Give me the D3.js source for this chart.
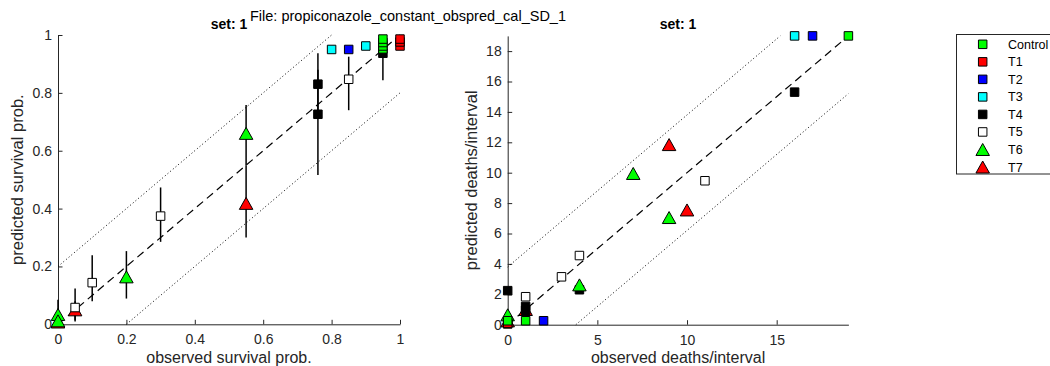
<!DOCTYPE html>
<html><head><meta charset="utf-8">
<script src="https://cdn.jsdelivr.net/npm/d3@7"></script>
<style>
body{margin:0;background:#fff}
text{font-family:"Liberation Sans",Arial,Helvetica,sans-serif}
</style>
</head><body>
<svg id="c" width="1050" height="366"></svg>
<script>
// ---- data ----
const seriesNames  = ["Control","T1","T2","T3","T4","T5","T6","T7"];
const seriesColors = ["#00ff00","#ff0000","#0000ff","#00ffff","#000000","#ffffff","#00ff00","#ff0000"];
const seriesShapes = ["square","square","square","square","square","square","triangle","triangle"];
const drawOrder    = ["T7","T4","T6","T5","T3","T2","T1","Control"];

// survival panel: [observed, predicted, ciLow, ciHigh]
const survControl = [[0.95,0.952,null,null],[0.95,0.962,null,null],[0.95,0.974,null,null],[0.95,0.986,null,null]];
const survT1 = [[1,0.962,null,null],[1,0.976,null,null],[1,0.986,null,null]];
const survT2 = [[0.85,0.95,null,null]];
const survT3 = [[0.8,0.95,null,null],[0.9,0.962,null,null]];
const survT4 = [[0.76,0.83,0.72,0.937],[0.76,0.726,0.516,0.88],[0.95,0.937,0.844,0.99]];
const survT5 = [[0.85,0.847,0.74,0.925],[0.3,0.374,0.285,0.473],[0.1,0.144,0.08,0.239],[0.05,0.058,0.014,0.124]];
const survT6 = [[0.55,0.66,0.55,0.758],[0.2,0.164,0.089,0.253],[0,0.034,0,0.085],[0,0.012,0,0.05]];
const survT7 = [[0.55,0.418,0.30,0.55],[0.05,0.05,0.01,0.08],[0,0.008,0,0.01]];

// deaths panel: [observed, predicted]
const deathsControl = [[19,19],[1,0.26],[0,0.26]];
const deathsT1 = [[0,0.05],[0,0.1]];
const deathsT2 = [[17,19],[2,0.26]];
const deathsT3 = [[16,19]];
const deathsT4 = [[16,15.3],[4,2.3],[0,2.24],[1,1.2],[1,0.95]];
const deathsT5 = [[11,9.47],[4,4.55],[3,3.15],[1,1.84]];
const deathsT6 = [[7,9.95],[9,7.05],[4,2.62],[0,0.65]];
const deathsT7 = [[9,11.85],[10,7.55],[1,1.0],[0,0.25]];

const survTicks = [0,0.2,0.4,0.6,0.8,1];
const survTickLabels = ["0","0.2","0.4","0.6","0.8","1"];
const deathXTicks = [0,5,10,15];
const deathYTicks = [0,2,4,6,8,10,12,14,16,18];

const survData = {Control:survControl,T1:survT1,T2:survT2,T3:survT3,T4:survT4,T5:survT5,T6:survT6,T7:survT7};
const deathData = {Control:deathsControl,T1:deathsT1,T2:deathsT2,T3:deathsT3,T4:deathsT4,T5:deathsT5,T6:deathsT6,T7:deathsT7};

// ---- drawing ----
const svg = d3.select("#c");
const axisColor = "#262626";
const SQ = 8.5, TW = 13.5, TH = 12;

function markerPath(shape){
  if(shape==="square") return `M${-SQ/2},${-SQ/2}h${SQ}v${SQ}h${-SQ}Z`;
  return `M0,${-TH/2}L${TW/2},${TH/2}L${-TW/2},${TH/2}Z`;
}
function styleOf(name){
  const i = seriesNames.indexOf(name);
  return {color:seriesColors[i], shape:seriesShapes[i]};
}

function panel(opts){
  const x = d3.scaleLinear().domain(opts.xDomain).range(opts.xRange);
  const y = d3.scaleLinear().domain(opts.yDomain).range(opts.yRange);
  const g = svg.append("g");
  const [x0,x1] = opts.xDomain, [y0,y1] = opts.yDomain;
  const band = opts.band;

  // axes
  const ax = g.append("g").attr("transform",`translate(0,${opts.yRange[0]})`)
    .call(d3.axisBottom(x).tickValues(opts.xTicks).tickFormat((d,i)=>opts.xLabels? opts.xLabels[i] : d)
      .tickSizeInner(-4.5).tickSizeOuter(0).tickPadding(10));
  const ay = g.append("g").attr("transform",`translate(${opts.xRange[0]},0)`)
    .call(d3.axisLeft(y).tickValues(opts.yTicks).tickFormat((d,i)=>opts.yLabels? opts.yLabels[i] : d)
      .tickSizeInner(-4.5).tickSizeOuter(0).tickPadding(6));
  [ax,ay].forEach(a=>{
    a.select(".domain").attr("stroke",axisColor).attr("stroke-width",1);
    a.selectAll(".tick line").attr("stroke",axisColor);
    a.selectAll(".tick text").attr("fill",axisColor).style("font-size","14px")
      .style("font-family",'"Liberation Sans",Arial,sans-serif');
  });

  // reference lines
  const line = d3.line().x(d=>x(d[0])).y(d=>y(d[1]));
  g.append("path").attr("d",line([[x0,y0+band],[x1-band,y1]])).attr("fill","none")
    .attr("stroke","#000").attr("stroke-width",1).attr("stroke-dasharray","1,2.5");
  g.append("path").attr("d",line([[x0+band,y0],[x1,y1-band]])).attr("fill","none")
    .attr("stroke","#000").attr("stroke-width",1).attr("stroke-dasharray","1,2.5");
  g.append("path").attr("d",line([[x0,y0],[x1,y1]])).attr("fill","none")
    .attr("stroke","#000").attr("stroke-width",1.2).attr("stroke-dasharray","8,5");

  // error bars
  drawOrder.forEach(name=>{
    opts.data[name].forEach(p=>{
      if(p.length>2 && p[2]!=null){
        g.append("line").attr("x1",x(p[0])).attr("x2",x(p[0]))
          .attr("y1",y(p[2])).attr("y2",y(p[3]))
          .attr("stroke","#000").attr("stroke-width",1.5);
      }
    });
  });
  // markers
  drawOrder.forEach(name=>{
    const st = styleOf(name);
    g.append("g").selectAll("path").data(opts.data[name]).join("path")
      .attr("transform",d=>`translate(${x(d[0])},${y(d[1])})`)
      .attr("d",markerPath(st.shape))
      .attr("fill",st.color).attr("stroke","#000").attr("stroke-width",1);
  });

  // labels
  const cx = (opts.xRange[0]+opts.xRange[1])/2;
  const cy = (opts.yRange[0]+opts.yRange[1])/2;
  g.append("text").attr("x",cx).attr("y",362.5).attr("text-anchor","middle")
    .style("font-size","16px").attr("fill",axisColor).text(opts.xTitle);
  g.append("text").attr("transform",`translate(${opts.yTitleX},${cy}) rotate(-90)`)
    .attr("text-anchor","middle").style("font-size","16.5px").attr("fill",axisColor).text(opts.yTitle);
  g.append("text").attr("x",cx).attr("y",29).attr("text-anchor","middle")
    .style("font-size","14px").style("font-weight","bold").attr("fill","#000").text("set: 1");
}

panel({
  xDomain:[0,1], yDomain:[0,1], xRange:[58,400], yRange:[324.3,35], band:0.2,
  xTicks:survTicks, yTicks:survTicks, xLabels:survTickLabels, yLabels:survTickLabels,
  data:survData, xTitle:"observed survival prob.", yTitle:"predicted survival prob.", yTitleX:23
});
panel({
  xDomain:[0,19], yDomain:[0,19], xRange:[507.7,848.4], yRange:[324.7,35.9], band:3.8,
  xTicks:deathXTicks, yTicks:deathYTicks, xLabels:null, yLabels:null,
  data:deathData, xTitle:"observed deaths/interval", yTitle:"predicted deaths/interval", yTitleX:477
});

svg.append("text").attr("x",250).attr("y",21).style("font-size","14.5px").attr("fill","#000")
  .text("File: propiconazole_constant_obspred_cal_SD_1");

// legend
const lg = svg.append("g");
lg.append("rect").attr("x",956.5).attr("y",34.5).attr("width",110).attr("height",139.5)
  .attr("fill","#fff").attr("stroke",axisColor).attr("stroke-width",1);
const ly = d3.scalePoint().domain(seriesNames).range([44.3,167]);
seriesNames.forEach(name=>{
  const st = styleOf(name);
  lg.append("path").attr("transform",`translate(982.7,${ly(name)})`).attr("d",markerPath(st.shape))
    .attr("fill",st.color).attr("stroke","#000").attr("stroke-width",1);
  lg.append("text").attr("x",1008).attr("y",ly(name)+4.5).style("font-size","12.5px").attr("fill","#000").text(name);
});
</script>
</body></html>
